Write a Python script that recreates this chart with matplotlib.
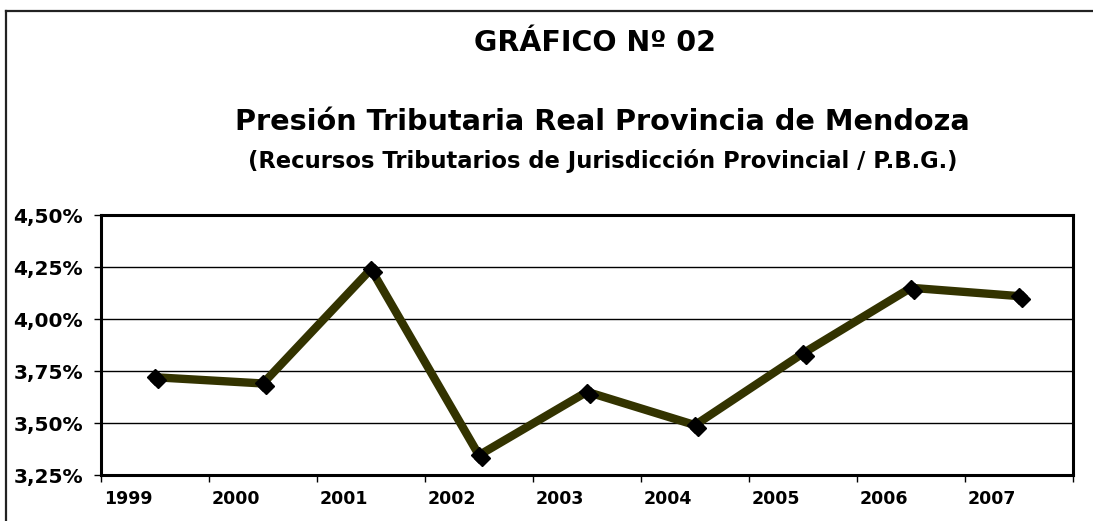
import matplotlib
matplotlib.use("Agg")
import matplotlib.pyplot as plt
from matplotlib.transforms import ScaledTranslation
from matplotlib.lines import Line2D
import numpy as np

years = ["1999", "2000", "2001", "2002", "2003", "2004", "2005", "2006", "2007"]
presion = [3.72, 3.69, 4.24, 3.345, 3.65, 3.49, 3.835, 4.15, 4.11]
yticks = [3.25, 3.50, 3.75, 4.00, 4.25, 4.50]
ytick_labels = ["3,25%", "3,50%", "3,75%", "4,00%", "4,25%", "4,50%"]

W, H = 1093, 521
fig = plt.figure(figsize=(W / 100, H / 100), dpi=100)
fig.patch.set_facecolor("white")
font = "DejaVu Sans"

# outer frame (top and left)
fig.add_artist(Line2D([6 / W, 1.0], [1 - 11 / H, 1 - 11 / H], transform=fig.transFigure, color="#222222", lw=1.6))
fig.add_artist(Line2D([6 / W, 6 / W], [0.0, 1 - 11 / H], transform=fig.transFigure, color="#222222", lw=1.6))

ax = fig.add_axes([101 / W, 1 - 475 / H, (1073 - 101) / W, (475 - 215) / H])
x = np.arange(len(years))

ax.set_ylim(3.25, 4.50)
ax.set_xlim(-0.5, len(years) - 0.5)
ax.set_yticks(yticks)
ax.set_yticklabels(ytick_labels, fontfamily=font, fontweight="bold", fontsize=14.5)
ax.grid(axis="y", color="black", lw=1.0)
ax.set_axisbelow(True)

ax.set_xticks(x)
ax.set_xticklabels(years, fontfamily=font, fontweight="bold", fontsize=12.5)
ax.set_xticks(np.arange(len(years) + 1) - 0.5, minor=True)
ax.tick_params(axis="x", which="major", length=0, pad=11)
ax.tick_params(axis="x", which="minor", length=5, width=1, direction="out")
ax.tick_params(axis="y", length=5, width=1, direction="out", pad=8)
shift = ScaledTranslation(-27 / 100, 0, fig.dpi_scale_trans)
for lab in ax.get_xticklabels():
    lab.set_transform(lab.get_transform() + shift)

for s in ax.spines.values():
    s.set_linewidth(2.2)
    s.set_color("black")

ax.plot(x, presion, color="#333300", lw=6, solid_capstyle="butt", zorder=3)
shadow = ScaledTranslation(3 / 100, -3 / 100, fig.dpi_scale_trans)
ax.plot(x, presion, ls="none", marker="D", ms=8, color="black",
        transform=ax.transData + shadow, zorder=4)
ax.plot(x, presion, ls="none", marker="D", ms=8, color="black", zorder=4)

fig.text(595 / W, 1 - 43 / H, "GRÁFICO Nº 02", ha="center", va="center",
         fontfamily=font, fontweight="bold", fontsize=20.5)
fig.text(602 / W, 1 - 122 / H, "Presión Tributaria Real Provincia de Mendoza", ha="center", va="center",
         fontfamily=font, fontweight="bold", fontsize=20.7)
fig.text(603 / W, 1 - 161 / H, "(Recursos Tributarios de Jurisdicción Provincial / P.B.G.)", ha="center", va="center",
         fontfamily=font, fontweight="bold", fontsize=16.3)

fig.savefig("out.png", dpi=100, facecolor="white")
